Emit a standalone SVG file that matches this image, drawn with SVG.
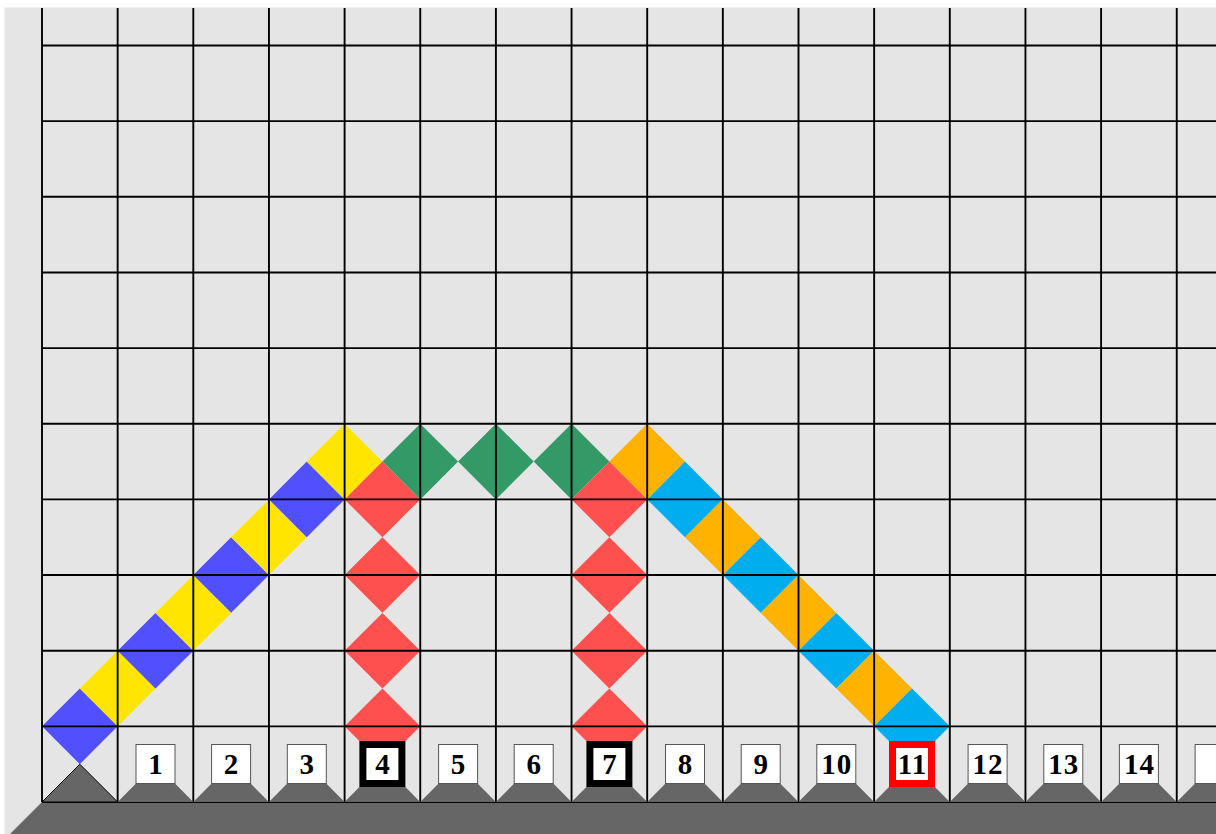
<svg xmlns="http://www.w3.org/2000/svg" xmlns:xlink="http://www.w3.org/1999/xlink" width="1216" height="834" viewBox="0 0 1216 834">
<style>
.bl{fill:#5050ff}.ye{fill:#ffe500}.gr{fill:#339966}.rd{fill:#ff5050}.or{fill:#ffb300}.cy{fill:#00aeef}
.grid line{stroke:#000;stroke-width:1.9}
.trap{fill:#666}
.box{fill:#fff;stroke:#555;stroke-width:1}
.hb{fill:#fff;stroke:#000;stroke-width:7}
.hr{fill:#fff;stroke:#ff0000;stroke-width:7}
.lbl{font-family:"Liberation Serif","DejaVu Serif",serif;font-weight:bold;font-size:29px;letter-spacing:1px;text-anchor:middle;fill:#000}
</style>
<defs>
<path id="d" d="M0,-37.825L37.825,0L0,37.825L-37.825,0Z"/>
<polygon id="t" points="0,802 18.3,783.5 57.35,783.5 75.65,802"/>
</defs>
<rect x="0" y="0" width="1216" height="834" fill="#fff"/>
<rect x="4.5" y="7.5" width="1212" height="827" fill="#e5e5e5"/>
<polygon points="42,802 1216,802 1216,834 10,834" fill="#666"/>
<g id="path-left">
<use xlink:href="#d" class="bl" x="79.825" y="726.35"/>
<use xlink:href="#d" class="ye" x="117.65" y="688.525"/>
<use xlink:href="#d" class="bl" x="155.475" y="650.7"/>
<use xlink:href="#d" class="ye" x="193.3" y="612.875"/>
<use xlink:href="#d" class="bl" x="231.125" y="575.05"/>
<use xlink:href="#d" class="ye" x="268.95" y="537.225"/>
<use xlink:href="#d" class="bl" x="306.775" y="499.4"/>
<use xlink:href="#d" class="ye" x="344.6" y="461.575"/>
</g>
<g id="path-top">
<use xlink:href="#d" class="gr" x="420.25" y="461.575"/>
<use xlink:href="#d" class="gr" x="495.9" y="461.575"/>
<use xlink:href="#d" class="gr" x="571.55" y="461.575"/>
</g>
<g id="path-right">
<use xlink:href="#d" class="or" x="647.2" y="461.575"/>
<use xlink:href="#d" class="cy" x="685.025" y="499.4"/>
<use xlink:href="#d" class="or" x="722.85" y="537.225"/>
<use xlink:href="#d" class="cy" x="760.675" y="575.05"/>
<use xlink:href="#d" class="or" x="798.5" y="612.875"/>
<use xlink:href="#d" class="cy" x="836.325" y="650.7"/>
<use xlink:href="#d" class="or" x="874.15" y="688.525"/>
<use xlink:href="#d" class="cy" x="911.975" y="726.35"/>
</g>
<g id="red-4">
<use xlink:href="#d" class="rd" x="382.425" y="499.4"/>
<use xlink:href="#d" class="rd" x="382.425" y="575.05"/>
<use xlink:href="#d" class="rd" x="382.425" y="650.7"/>
<use xlink:href="#d" class="rd" x="382.425" y="726.35"/>
</g>
<g id="red-7">
<use xlink:href="#d" class="rd" x="609.375" y="499.4"/>
<use xlink:href="#d" class="rd" x="609.375" y="575.05"/>
<use xlink:href="#d" class="rd" x="609.375" y="650.7"/>
<use xlink:href="#d" class="rd" x="609.375" y="726.35"/>
</g>
<g id="grid" class="grid">
<line x1="42" y1="8" x2="42" y2="802"/>
<line x1="117.65" y1="8" x2="117.65" y2="802"/>
<line x1="193.3" y1="8" x2="193.3" y2="802"/>
<line x1="268.95" y1="8" x2="268.95" y2="802"/>
<line x1="344.6" y1="8" x2="344.6" y2="802"/>
<line x1="420.25" y1="8" x2="420.25" y2="802"/>
<line x1="495.9" y1="8" x2="495.9" y2="802"/>
<line x1="571.55" y1="8" x2="571.55" y2="802"/>
<line x1="647.2" y1="8" x2="647.2" y2="802"/>
<line x1="722.85" y1="8" x2="722.85" y2="802"/>
<line x1="798.5" y1="8" x2="798.5" y2="802"/>
<line x1="874.15" y1="8" x2="874.15" y2="802"/>
<line x1="949.8" y1="8" x2="949.8" y2="802"/>
<line x1="1025.45" y1="8" x2="1025.45" y2="802"/>
<line x1="1101.1" y1="8" x2="1101.1" y2="802"/>
<line x1="1176.75" y1="8" x2="1176.75" y2="802"/>
<line x1="42" y1="45.5" x2="1216" y2="45.5"/>
<line x1="42" y1="121.15" x2="1216" y2="121.15"/>
<line x1="42" y1="196.8" x2="1216" y2="196.8"/>
<line x1="42" y1="272.45" x2="1216" y2="272.45"/>
<line x1="42" y1="348.1" x2="1216" y2="348.1"/>
<line x1="42" y1="423.75" x2="1216" y2="423.75"/>
<line x1="42" y1="499.4" x2="1216" y2="499.4"/>
<line x1="42" y1="575.05" x2="1216" y2="575.05"/>
<line x1="42" y1="650.7" x2="1216" y2="650.7"/>
<line x1="42" y1="726.35" x2="1216" y2="726.35"/>
<line x1="42" y1="802" x2="1216" y2="802"/>
</g>
<g id="start">
<polygon points="42,802 79.825,764.175 117.65,802" fill="#666" stroke="#000" stroke-width="1"/>
</g>
<g id="label-1"><use xlink:href="#t" class="trap" x="117.65"/><rect class="box" x="136" y="744.5" width="39" height="39"/><text class="lbl" x="156" y="774">1</text></g>
<g id="label-2"><use xlink:href="#t" class="trap" x="193.3"/><rect class="box" x="211.6" y="744.5" width="39" height="39"/><text class="lbl" x="231.6" y="774">2</text></g>
<g id="label-3"><use xlink:href="#t" class="trap" x="268.95"/><rect class="box" x="287.3" y="744.5" width="39" height="39"/><text class="lbl" x="307.3" y="774">3</text></g>
<g id="label-4"><use xlink:href="#t" class="trap" x="344.6"/><rect class="hb" x="362.9" y="744.5" width="39" height="39"/><text class="lbl" x="382.9" y="774">4</text></g>
<g id="label-5"><use xlink:href="#t" class="trap" x="420.25"/><rect class="box" x="438.6" y="744.5" width="39" height="39"/><text class="lbl" x="458.6" y="774">5</text></g>
<g id="label-6"><use xlink:href="#t" class="trap" x="495.9"/><rect class="box" x="514.2" y="744.5" width="39" height="39"/><text class="lbl" x="534.2" y="774">6</text></g>
<g id="label-7"><use xlink:href="#t" class="trap" x="571.55"/><rect class="hb" x="589.9" y="744.5" width="39" height="39"/><text class="lbl" x="609.9" y="774">7</text></g>
<g id="label-8"><use xlink:href="#t" class="trap" x="647.2"/><rect class="box" x="665.5" y="744.5" width="39" height="39"/><text class="lbl" x="685.5" y="774">8</text></g>
<g id="label-9"><use xlink:href="#t" class="trap" x="722.85"/><rect class="box" x="741.2" y="744.5" width="39" height="39"/><text class="lbl" x="761.2" y="774">9</text></g>
<g id="label-10"><use xlink:href="#t" class="trap" x="798.5"/><rect class="box" x="816.8" y="744.5" width="39" height="39"/><text class="lbl" x="836.8" y="774">10</text></g>
<g id="label-11"><use xlink:href="#t" class="trap" x="874.15"/><rect class="hr" x="892.5" y="744.5" width="39" height="39"/><text class="lbl" x="912.5" y="774">11</text></g>
<g id="label-12"><use xlink:href="#t" class="trap" x="949.8"/><rect class="box" x="968.1" y="744.5" width="39" height="39"/><text class="lbl" x="988.1" y="774">12</text></g>
<g id="label-13"><use xlink:href="#t" class="trap" x="1025.45"/><rect class="box" x="1043.8" y="744.5" width="39" height="39"/><text class="lbl" x="1063.8" y="774">13</text></g>
<g id="label-14"><use xlink:href="#t" class="trap" x="1101.1"/><rect class="box" x="1119.4" y="744.5" width="39" height="39"/><text class="lbl" x="1139.4" y="774">14</text></g>
<g id="label-15"><use xlink:href="#t" class="trap" x="1176.75"/><rect class="box" x="1195.1" y="744.5" width="39" height="39"/></g>
</svg>
